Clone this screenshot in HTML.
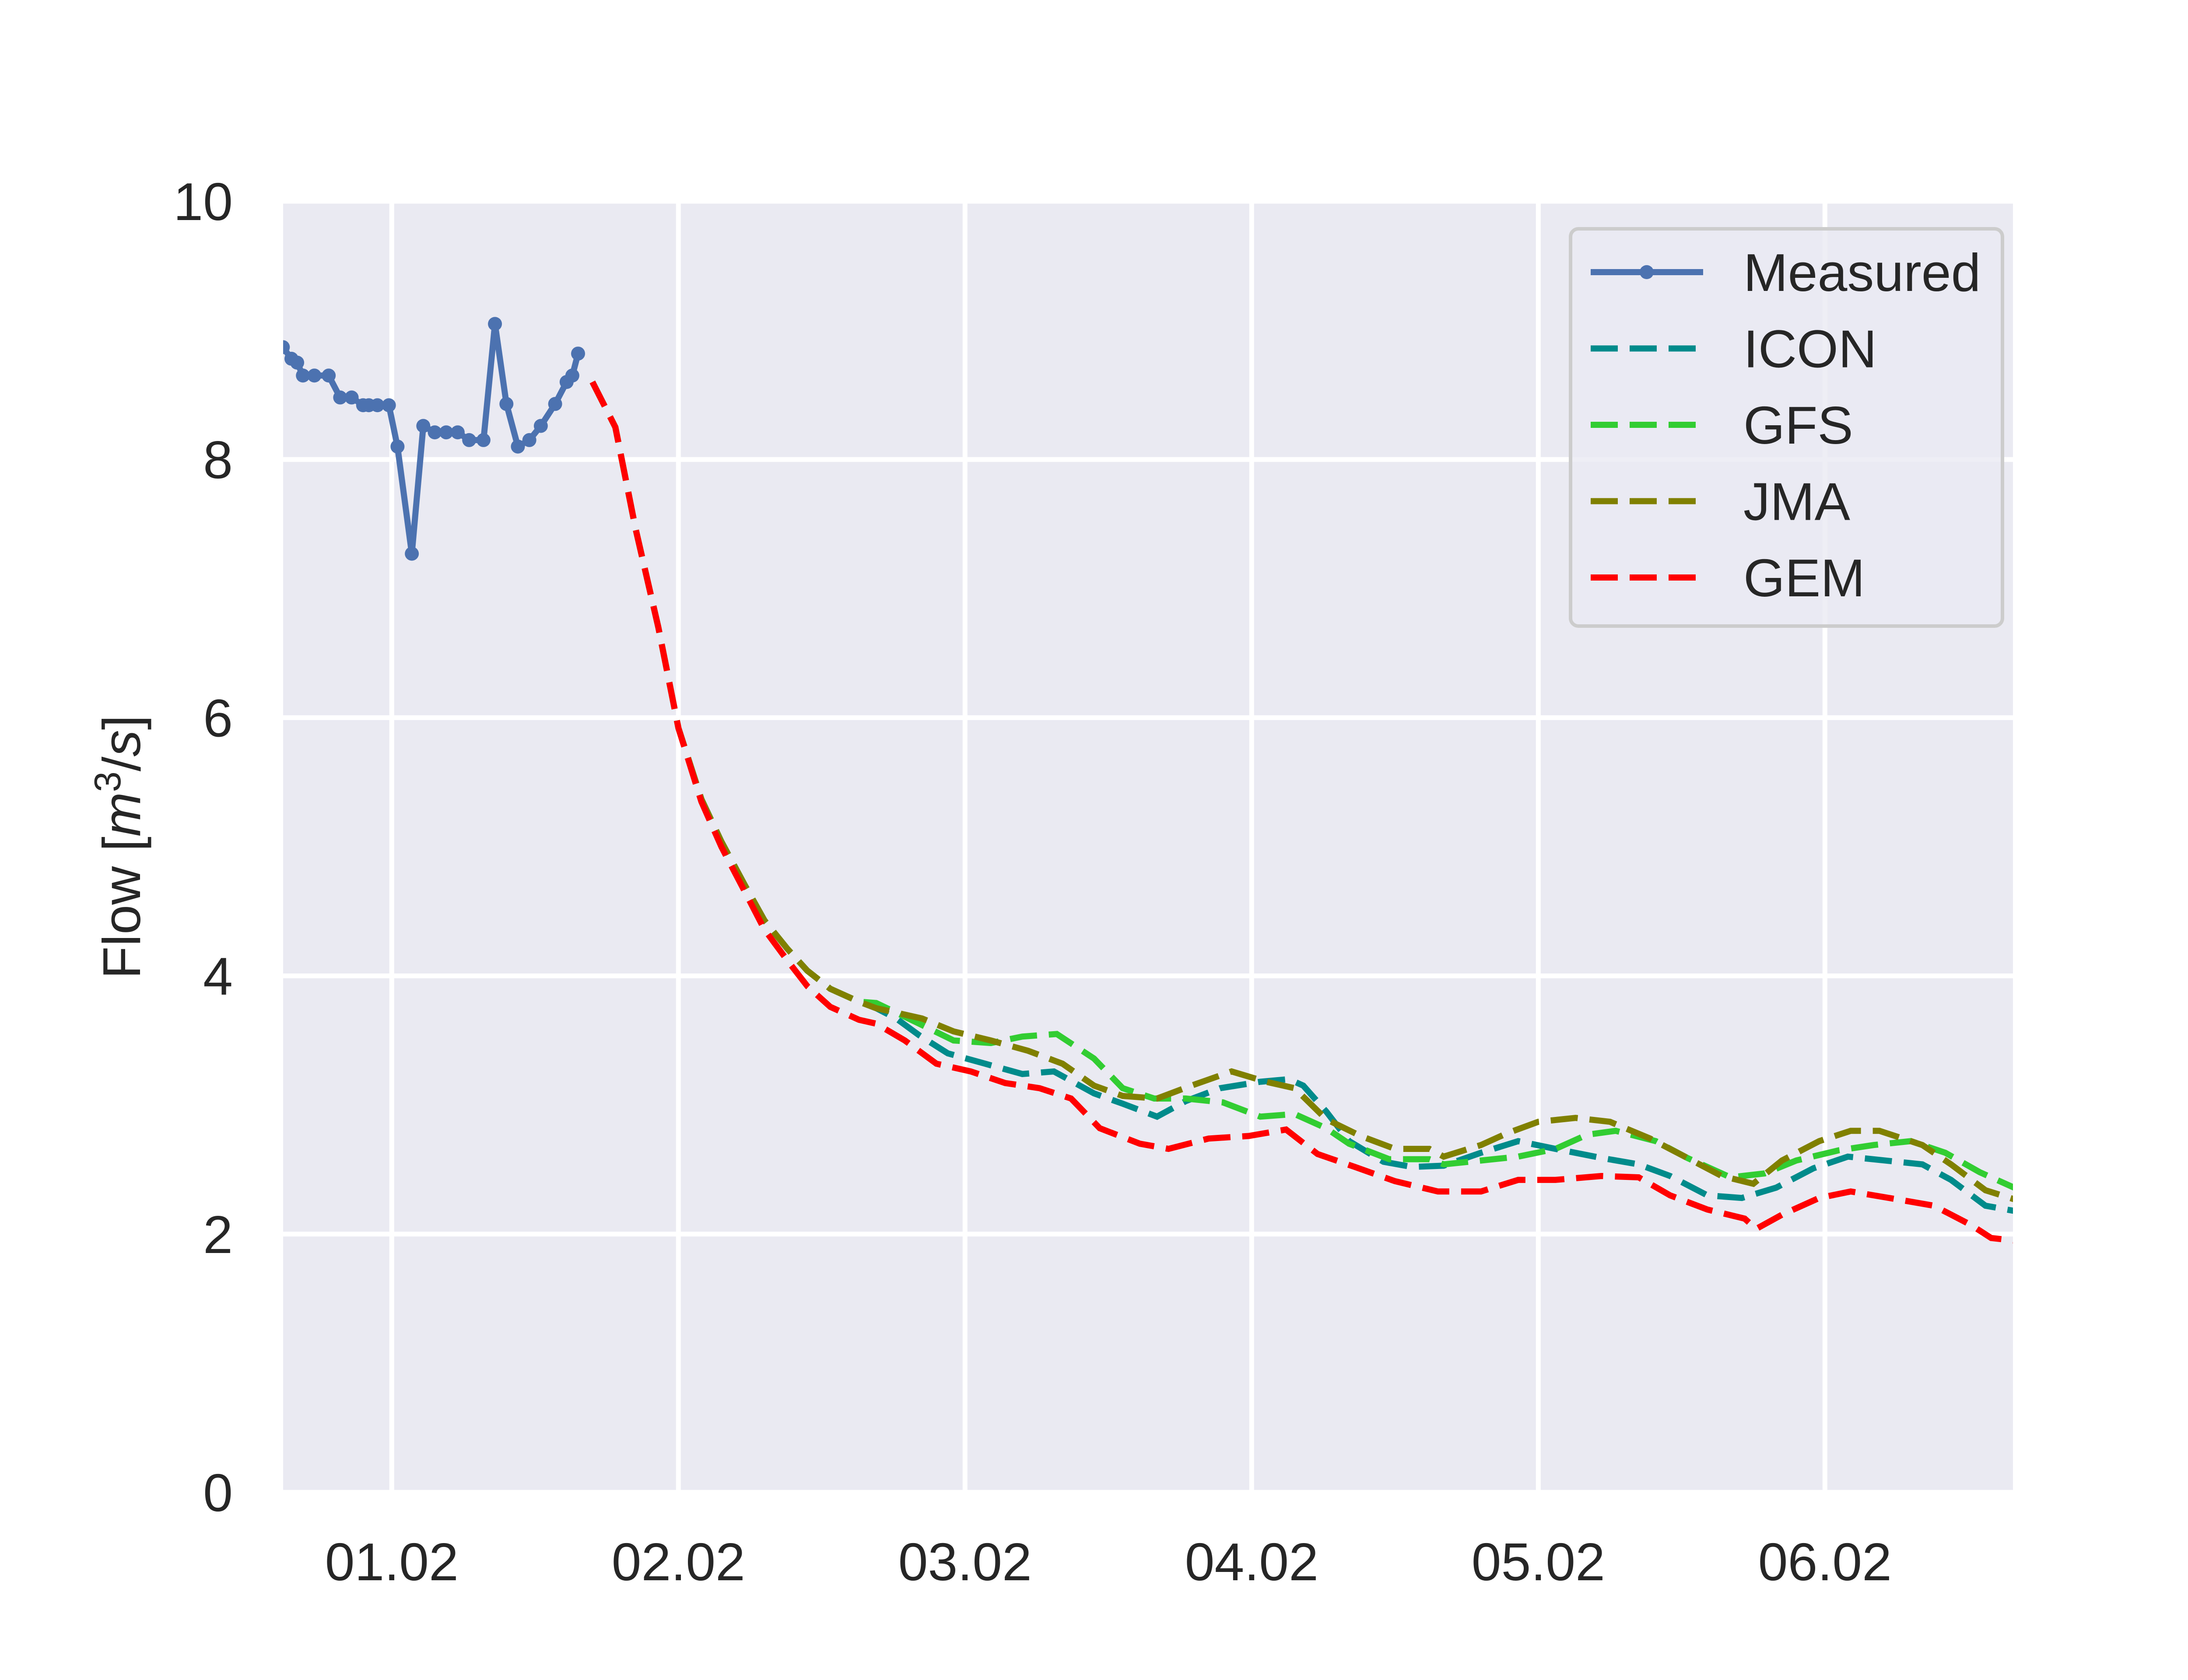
<!DOCTYPE html>
<html><head><meta charset="utf-8"><style>
html,body{margin:0;padding:0;background:#fff;}
svg{display:block;font-family:"Liberation Sans","DejaVu Sans",sans-serif;}
</style></head><body>
<svg id="chart" width="5120" height="3840" viewBox="0 0 5120 3840" xmlns="http://www.w3.org/2000/svg">
<defs><clipPath id="pc"><rect x="647" y="460" width="3953" height="2951"/></clipPath></defs>
<rect x="647" y="460" width="3953" height="2951" fill="#eaeaf2"/>
<g id="grid"></g>
<g id="series" clip-path="url(#pc)"></g>
<g id="ticks"></g>
<text transform="translate(320,1936) rotate(-90)" text-anchor="middle" font-size="122" fill="#262626">Flow [<tspan font-style="italic">m</tspan><tspan font-size="85" dy="-45">3</tspan><tspan dy="45">/</tspan><tspan font-style="italic">s</tspan>]</text>
<g id="legend"></g>
</svg>
<script>
const measuredDays=[-0.38,-0.35,-0.33,-0.31,-0.27,-0.22,-0.18,-0.14,-0.10,-0.08,-0.05,-0.01,0.02,0.07,0.11,0.15,0.19,0.23,0.27,0.32,0.36,0.40,0.44,0.48,0.52,0.57,0.61,0.63,0.65];
const measuredVals=[8.87,8.78,8.75,8.65,8.65,8.65,8.48,8.48,8.42,8.42,8.42,8.42,8.10,7.27,8.26,8.21,8.21,8.21,8.15,8.15,9.05,8.43,8.10,8.15,8.26,8.43,8.60,8.65,8.82];
const iconDays=[0.70,0.78,0.85,0.93,1.0,1.08,1.15,1.23,1.30,1.38,1.45,1.53,1.63,1.69,1.76,1.84,1.94,2.07,2.2,2.31,2.45,2.55,2.67,2.77,2.89,3.03,3.13,3.18,3.26,3.34,3.46,3.56,3.67,3.8,3.93,4.06,4.22,4.35,4.46,4.59,4.71,4.83,4.96,5.08,5.21,5.34,5.44,5.56,5.66];
const iconVals=[8.6,8.25,7.47,6.70,5.92,5.37,5.04,4.71,4.43,4.21,4.04,3.90,3.80,3.75,3.67,3.54,3.40,3.32,3.24,3.26,3.09,3.01,2.91,3.03,3.13,3.18,3.20,3.15,2.95,2.72,2.56,2.52,2.53,2.63,2.72,2.66,2.59,2.54,2.45,2.30,2.28,2.36,2.51,2.60,2.57,2.54,2.42,2.22,2.18];
const gfsDays=[0.70,0.78,0.85,0.93,1.0,1.08,1.15,1.23,1.30,1.38,1.45,1.53,1.63,1.69,1.84,1.96,2.09,2.2,2.32,2.45,2.55,2.66,2.77,2.9,3.03,3.15,3.26,3.34,3.48,3.62,3.67,3.8,3.93,4.06,4.17,4.27,4.41,4.52,4.67,4.79,4.9,5.05,5.17,5.3,5.42,5.54,5.66];
const gfsVals=[8.6,8.25,7.47,6.70,5.92,5.37,5.04,4.71,4.43,4.21,4.04,3.90,3.80,3.79,3.63,3.50,3.48,3.53,3.55,3.36,3.13,3.05,3.05,3.02,2.91,2.93,2.82,2.70,2.58,2.58,2.54,2.57,2.60,2.66,2.77,2.80,2.72,2.59,2.44,2.47,2.57,2.65,2.69,2.72,2.63,2.48,2.36];
const jmaDays=[0.70,0.78,0.85,0.93,1.0,1.08,1.15,1.23,1.30,1.38,1.45,1.53,1.63,1.69,1.85,1.96,2.09,2.22,2.34,2.45,2.55,2.67,2.79,2.93,3.05,3.15,3.26,3.38,3.5,3.62,3.67,3.8,3.89,4.0,4.13,4.25,4.39,4.52,4.64,4.75,4.85,4.98,5.09,5.19,5.34,5.44,5.56,5.66];
const jmaVals=[8.6,8.25,7.47,6.70,5.92,5.37,5.04,4.71,4.43,4.21,4.04,3.90,3.80,3.75,3.67,3.57,3.50,3.42,3.32,3.15,3.07,3.05,3.15,3.26,3.18,3.13,2.89,2.76,2.66,2.66,2.60,2.69,2.78,2.87,2.90,2.87,2.74,2.59,2.45,2.39,2.57,2.72,2.80,2.80,2.69,2.54,2.34,2.27];
const gemDays=[0.70,0.78,0.85,0.93,1.0,1.08,1.15,1.23,1.30,1.38,1.45,1.53,1.63,1.69,1.79,1.90,2.02,2.14,2.26,2.37,2.47,2.61,2.71,2.85,2.99,3.12,3.23,3.36,3.5,3.65,3.8,3.93,4.06,4.22,4.35,4.46,4.59,4.72,4.76,4.85,4.98,5.09,5.25,5.38,5.51,5.58,5.66];
const gemVals=[8.6,8.25,7.47,6.70,5.92,5.35,5.0,4.66,4.36,4.12,3.92,3.76,3.66,3.63,3.50,3.32,3.26,3.17,3.13,3.05,2.82,2.70,2.66,2.74,2.76,2.81,2.62,2.52,2.41,2.33,2.33,2.42,2.42,2.45,2.44,2.30,2.19,2.12,2.04,2.15,2.28,2.33,2.27,2.22,2.07,1.97,1.95];
const yTicks=[0,2,4,6,8,10];
const xTickDays=[0,1,2,3,4,5];
const xTickLabels=["01.02","02.02","03.02","04.02","05.02","06.02"];
const legendLabels=["Measured","ICON","GFS","JMA","GEM"];

const NS="http://www.w3.org/2000/svg";
const X0=647,X1=4600,Y0=3411,Y1=460,DMIN=-0.379,DMAX=5.656,VMIN=0,VMAX=10;
function sx(d){return X0+(d-DMIN)/(DMAX-DMIN)*(X1-X0);}
function sy(v){return Y0-(v-VMIN)/(VMAX-VMIN)*(Y0-Y1);}
function mk(tag,attrs,parent){const e=document.createElementNS(NS,tag);for(const k in attrs)e.setAttribute(k,attrs[k]);parent.appendChild(e);return e;}
const grid=document.getElementById('grid'),ticks=document.getElementById('ticks'),ser=document.getElementById('series'),leg=document.getElementById('legend');
yTicks.forEach(v=>{
  const l=mk('line',{x1:X0,x2:X1,y1:sy(v),y2:sy(v),stroke:'#fff','stroke-width':11},grid);
  
  
  const t=mk('text',{x:X0-115,y:sy(v)+43,'text-anchor':'end','font-size':122,fill:'#262626'},ticks);
  t.textContent=v;
  
  
});
xTickDays.forEach((d,i)=>{
  const l=mk('line',{x1:sx(d),x2:sx(d),y1:Y1,y2:Y0,stroke:'#fff','stroke-width':11},grid);
  
  
  const t=mk('text',{x:sx(d),y:3612,'text-anchor':'middle','font-size':122,fill:'#262626'},ticks);
  t.textContent=xTickLabels[i];
  
  
});
function pts(ds,vs){return ds.map((d,i)=>sx(d).toFixed(1)+','+sy(vs[i]).toFixed(1)).join(' ');}
const fc=[[iconDays,iconVals,'#008b8b','icon-line'],[gfsDays,gfsVals,'#32cd32','gfs-line'],[jmaDays,jmaVals,'#808000','jma-line'],[gemDays,gemVals,'#ff0000','gem-line']];
const m=mk('polyline',{points:pts(measuredDays,measuredVals),fill:'none',stroke:'#4c72b0','stroke-width':14,'stroke-linejoin':'round'},ser);


measuredDays.forEach((d,i)=>{
  const c=mk('circle',{cx:sx(d),cy:sy(measuredVals[i]),r:16,fill:'#4c72b0'},ser);
  
  
});
fc.forEach(f=>{
  const p=mk('polyline',{points:pts(f[0],f[1]),fill:'none',stroke:f[2],'stroke-width':14,'stroke-dasharray':'62 27'},ser);
  
  
});
const box=mk('rect',{x:3589,y:523,width:987,height:908,rx:18,fill:'#eaeaf2','fill-opacity':0.8,stroke:'#cccccc','stroke-width':8},leg);


const cols=['#4c72b0','#008b8b','#32cd32','#808000','#ff0000'];
legendLabels.forEach((lab,i)=>{
  const y=622+i*174.5;
  const l=mk('line',{x1:3635,x2:3892,y1:y,y2:y,stroke:cols[i],'stroke-width':14,'stroke-dasharray':i?'62 27':'none'},leg);
  
  
  if(i===0){const c=mk('circle',{cx:3763,cy:y,r:16,fill:cols[0]},leg);
    
    }
  const t=mk('text',{x:3984,y:y+43,'font-size':122,fill:'#262626'},leg);
  t.textContent=lab;
  
  
});
</script>
</body></html>
